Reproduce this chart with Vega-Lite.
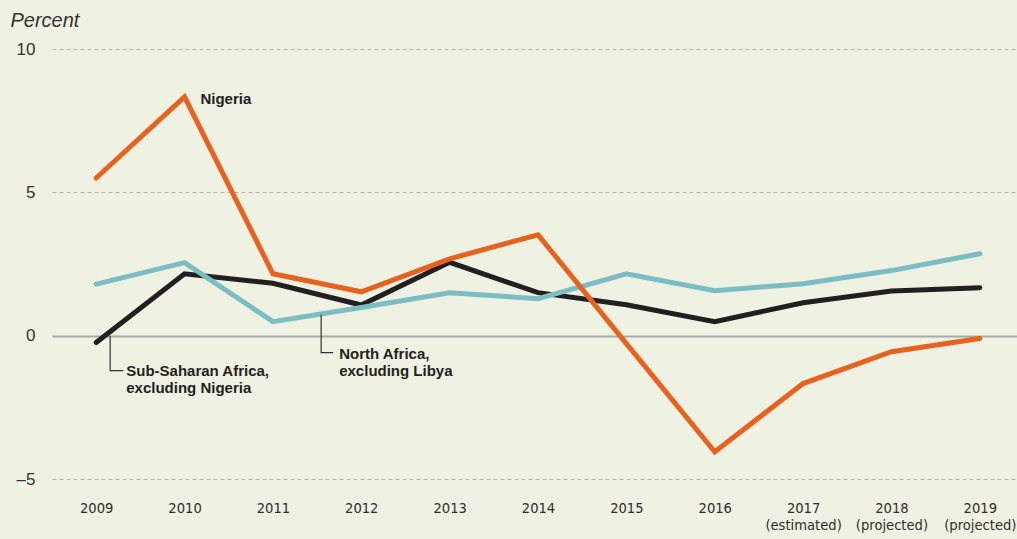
{
  "$schema": "https://vega.github.io/schema/vega-lite/v6.json",
  "autosize": {"type": "none"},
  "padding": {"left": 52, "top": 49, "right": 0, "bottom": 60},
  "width": 972,
  "height": 430,
  "background": "#eff1e3",
  "config": {
    "view": {"stroke": null},
    "font": "Liberation Sans"
  },
  "datasets": {
    "series": [
      {"year": 2009, "value": -0.24, "series": "Sub-Saharan Africa, excluding Nigeria"},
      {"year": 2010, "value": 2.16, "series": "Sub-Saharan Africa, excluding Nigeria"},
      {"year": 2011, "value": 1.83, "series": "Sub-Saharan Africa, excluding Nigeria"},
      {"year": 2012, "value": 1.07, "series": "Sub-Saharan Africa, excluding Nigeria"},
      {"year": 2013, "value": 2.56, "series": "Sub-Saharan Africa, excluding Nigeria"},
      {"year": 2014, "value": 1.5, "series": "Sub-Saharan Africa, excluding Nigeria"},
      {"year": 2015, "value": 1.08, "series": "Sub-Saharan Africa, excluding Nigeria"},
      {"year": 2016, "value": 0.49, "series": "Sub-Saharan Africa, excluding Nigeria"},
      {"year": 2017, "value": 1.15, "series": "Sub-Saharan Africa, excluding Nigeria"},
      {"year": 2018, "value": 1.56, "series": "Sub-Saharan Africa, excluding Nigeria"},
      {"year": 2019, "value": 1.67, "series": "Sub-Saharan Africa, excluding Nigeria"},
      {"year": 2009, "value": 1.8, "series": "North Africa, excluding Libya"},
      {"year": 2010, "value": 2.55, "series": "North Africa, excluding Libya"},
      {"year": 2011, "value": 0.49, "series": "North Africa, excluding Libya"},
      {"year": 2012, "value": 0.98, "series": "North Africa, excluding Libya"},
      {"year": 2013, "value": 1.5, "series": "North Africa, excluding Libya"},
      {"year": 2014, "value": 1.29, "series": "North Africa, excluding Libya"},
      {"year": 2015, "value": 2.16, "series": "North Africa, excluding Libya"},
      {"year": 2016, "value": 1.57, "series": "North Africa, excluding Libya"},
      {"year": 2017, "value": 1.81, "series": "North Africa, excluding Libya"},
      {"year": 2018, "value": 2.27, "series": "North Africa, excluding Libya"},
      {"year": 2019, "value": 2.86, "series": "North Africa, excluding Libya"},
      {"year": 2009, "value": 5.5, "series": "Nigeria"},
      {"year": 2010, "value": 8.33, "series": "Nigeria"},
      {"year": 2011, "value": 2.16, "series": "Nigeria"},
      {"year": 2012, "value": 1.53, "series": "Nigeria"},
      {"year": 2013, "value": 2.68, "series": "Nigeria"},
      {"year": 2014, "value": 3.52, "series": "Nigeria"},
      {"year": 2015, "value": -0.28, "series": "Nigeria"},
      {"year": 2016, "value": -4.05, "series": "Nigeria"},
      {"year": 2017, "value": -1.67, "series": "Nigeria"},
      {"year": 2018, "value": -0.56, "series": "Nigeria"},
      {"year": 2019, "value": -0.1, "series": "Nigeria"}
    ],
    "leaders": [
      {"id": "ssa", "seq": 1, "x": 2009.158, "y": 0.0},
      {"id": "ssa", "seq": 2, "x": 2009.158, "y": -1.22},
      {"id": "ssa", "seq": 3, "x": 2009.306, "y": -1.22},
      {"id": "na", "seq": 1, "x": 2011.546, "y": 0.73},
      {"id": "na", "seq": 2, "x": 2011.546, "y": -0.59},
      {"id": "na", "seq": 3, "x": 2011.682, "y": -0.59}
    ],
    "labels": [
      {"x": 2010.18, "y": 8.5, "label": "Nigeria"},
      {"x": 2009.34, "y": -0.98, "label": "Sub-Saharan Africa,\nexcluding Nigeria"},
      {"x": 2011.75, "y": -0.38, "label": "North Africa,\nexcluding Libya"}
    ]
  },
  "layer": [
    {
      "data": {"name": "series"},
      "mark": {"type": "line", "strokeWidth": 5, "strokeCap": "round", "strokeJoin": "miter"},
      "encoding": {
        "x": {
          "field": "year", "type": "quantitative",
          "scale": {"domain": [2008.5, 2019.5], "nice": false, "zero": false},
          "axis": {
            "title": null, "domain": false, "ticks": false, "grid": false,
            "values": [2009, 2010, 2011, 2012, 2013, 2014, 2015, 2016, 2017, 2018, 2019],
            "labelExpr": "datum.value == 2017 ? ['2017', '(estimated)'] : (datum.value >= 2018 ? [toString(datum.value), '(projected)'] : toString(datum.value))",
            "labelFont": "DejaVu Sans Condensed, Liberation Sans",
            "labelFontSize": 14.6,
            "labelColor": "#2e2e2e",
            "labelPadding": 21,
            "labelLineHeight": 17,
            "labelFlush": false,
            "labelOverlap": false
          }
        },
        "y": {
          "field": "value", "type": "quantitative",
          "scale": {"domain": [-5, 10], "nice": false},
          "axis": {
            "title": "Percent",
            "titleAngle": 0,
            "titleX": -42,
            "titleY": -23,
            "titleAlign": "left",
            "titleBaseline": "alphabetic",
            "titleFont": "Liberation Sans",
            "titleFontStyle": "italic",
            "titleFontWeight": "normal",
            "titleFontSize": 20,
            "titleColor": "#333333",
            "domain": false, "ticks": false,
            "values": [-5, 0, 5, 10],
            "labelExpr": "datum.value < 0 ? '–' + abs(datum.value) : datum.label",
            "labelFontSize": 17,
            "labelColor": "#333333",
            "labelPadding": 17,
            "grid": true,
            "gridColor": {"condition": {"test": "datum.value === 0", "value": "#a9a9a9"}, "value": "#b3b3b3"},
            "gridWidth": {"condition": {"test": "datum.value === 0", "value": 2}, "value": 1},
            "gridDash": {"condition": {"test": "datum.value === 0", "value": []}, "value": [4, 3]}
          }
        },
        "color": {
          "field": "series", "type": "nominal",
          "scale": {
            "domain": ["Sub-Saharan Africa, excluding Nigeria", "North Africa, excluding Libya", "Nigeria"],
            "range": ["#231f20", "#7bbdc3", "#e8621f"]
          },
          "legend": null
        },
        "order": {"field": "year", "type": "quantitative"}
      }
    },
    {
      "data": {"name": "leaders"},
      "mark": {"type": "line", "strokeWidth": 1.2, "color": "#333333", "strokeJoin": "miter"},
      "encoding": {
        "x": {"field": "x", "type": "quantitative"},
        "y": {"field": "y", "type": "quantitative"},
        "detail": {"field": "id"},
        "order": {"field": "seq", "type": "quantitative"}
      }
    },
    {
      "data": {"name": "labels"},
      "mark": {"type": "text", "align": "left", "baseline": "top", "lineBreak": "\n", "fontSize": 15, "fontWeight": "bold", "lineHeight": 17, "color": "#231f20"},
      "encoding": {
        "x": {"field": "x", "type": "quantitative"},
        "y": {"field": "y", "type": "quantitative"},
        "text": {"field": "label"}
      }
    }
  ]
}
